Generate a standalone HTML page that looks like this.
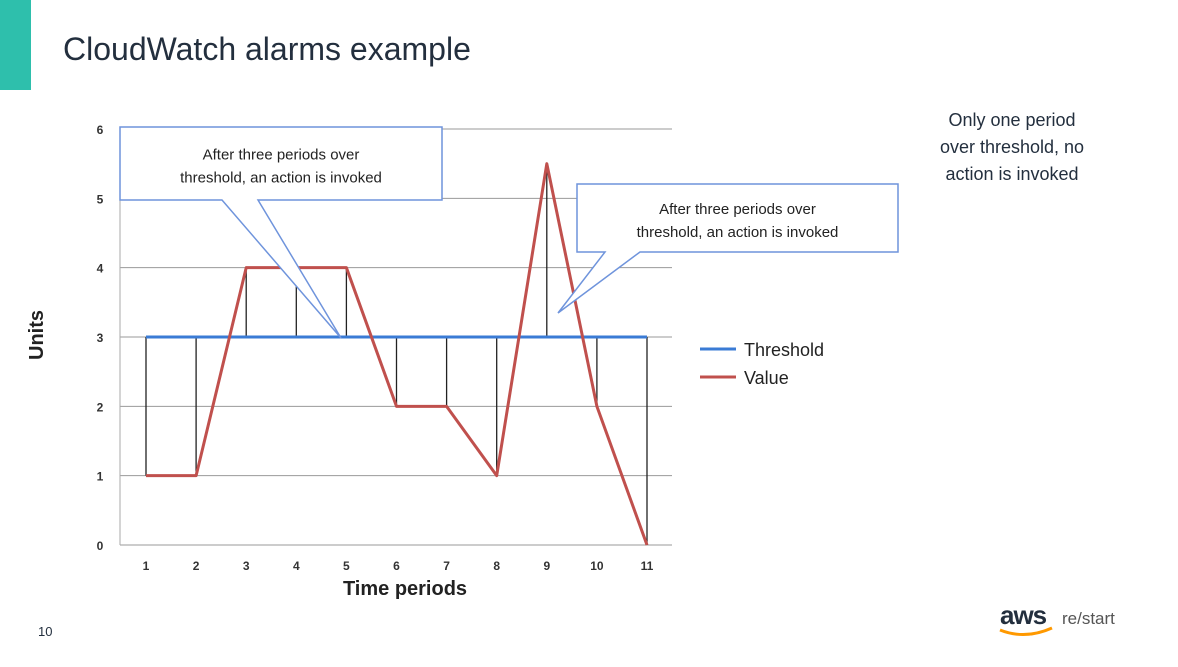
<!DOCTYPE html>
<html><head><meta charset="utf-8"><style>
body{margin:0;width:1178px;height:662px;background:#fff;overflow:hidden;font-family:"Liberation Sans",sans-serif;}
</style></head><body>
<svg width="1178" height="662" xmlns="http://www.w3.org/2000/svg">
<rect x="0" y="0" width="31" height="90" fill="#2ebfac"/>
<text x="63" y="60" font-size="32" fill="#232f3e">CloudWatch alarms example</text>
<g id="chart"></g>
<g font-size="18" fill="#232f3e" text-anchor="middle">
<text x="1012" y="126">Only one period</text>
<text x="1012" y="153">over threshold, no</text>
<text x="1012" y="180">action is invoked</text>
</g>
<text x="38" y="636" font-size="13" fill="#232f3e">10</text>
<g>
<text x="1000" y="624" font-size="26" fill="#232f3e" font-weight="bold" letter-spacing="-1">aws</text>
<path d="M1000 630 Q1025 640 1052 628" stroke="#f90" stroke-width="3" fill="none"/>
<text x="1062" y="624" font-size="17" fill="#555">re/start</text>
</g>
</svg>
<script>
const categories=[1,2,3,4,5,6,7,8,9,10,11];
const values=[1,1,4,4,4,2,2,1,5.5,2,0];
const threshold=[3,3,3,3,3,3,3,3,3,3,3];
const yTicks=[0,1,2,3,4,5,6];
const NS="http://www.w3.org/2000/svg";
const g=document.getElementById('chart');
const x=i=>146+(i-1)*50.1;
const y=v=>545-v*69.33;
function mk(t,a,p){const e=document.createElementNS(NS,t);for(const k in a)e.setAttribute(k,a[k]);(p||g).appendChild(e);return e;}
yTicks.forEach(t=>{
 const l=mk('line',{x1:120,x2:672,y1:y(t),y2:y(t),stroke:'#999','stroke-width':1});
 
 
 const tx=mk('text',{x:100,y:y(t)+5,'font-size':12,'font-weight':'bold','text-anchor':'middle',fill:'#333'});tx.textContent=t;
 
 
});
mk('line',{x1:120,x2:120,y1:y(6),y2:y(0),stroke:'#aaa'});
categories.forEach(c=>{
 const tx=mk('text',{x:x(c),y:570,'font-size':12,'font-weight':'bold','text-anchor':'middle',fill:'#333'});tx.textContent=c;
 
 
});
categories.forEach((c,i)=>{
 const l=mk('line',{x1:x(c),x2:x(c),y1:y(threshold[i]),y2:y(values[i]),stroke:'#222','stroke-width':1.3});
 
 
});
const th=mk('polyline',{points:categories.map((c,i)=>x(c)+','+y(threshold[i])).join(' '),fill:'none',stroke:'#3a7bd5','stroke-width':3});


const vl=mk('polyline',{points:categories.map((c,i)=>x(c)+','+y(values[i])).join(' '),fill:'none',stroke:'#c0504d','stroke-width':3,'stroke-linejoin':'round'});


let t=mk('text',{x:43,y:335,'font-size':20,'font-weight':'bold',transform:'rotate(-90 43 335)','text-anchor':'middle',fill:'#222'});t.textContent='Units';


t=mk('text',{x:405,y:595,'font-size':20,'font-weight':'bold','text-anchor':'middle',fill:'#222'});t.textContent='Time periods';


// legend
mk('line',{x1:700,x2:736,y1:349,y2:349,stroke:'#3a7bd5','stroke-width':3});
t=mk('text',{x:744,y:356,'font-size':18,fill:'#222'});t.textContent='Threshold';


mk('line',{x1:700,x2:736,y1:377,y2:377,stroke:'#c0504d','stroke-width':3});
t=mk('text',{x:744,y:384,'font-size':18,fill:'#222'});t.textContent='Value';


// callouts
function callout(bx,by,bw,bh,p1,p2,tip,name){
 const grp=mk('g',{});
 
 
 mk('path',{d:`M${bx} ${by}H${bx+bw}V${by+bh}H${p2}L${tip[0]} ${tip[1]}L${p1} ${by+bh}H${bx}Z`,fill:'#fff',stroke:'#6f94dc','stroke-width':1.5},grp);
 const cx=bx+bw/2;
 let a=mk('text',{x:cx,y:by+bh/2-4,'font-size':15,'text-anchor':'middle',fill:'#222'},grp);a.textContent='After three periods over';
 a=mk('text',{x:cx,y:by+bh/2+19,'font-size':15,'text-anchor':'middle',fill:'#222'},grp);a.textContent='threshold, an action is invoked';
}
callout(120,127,322,73,222,258,[341,338],'callout-first');
callout(577,184,321,68,605,640,[558,313],'callout-second');
</script>
</body></html>
